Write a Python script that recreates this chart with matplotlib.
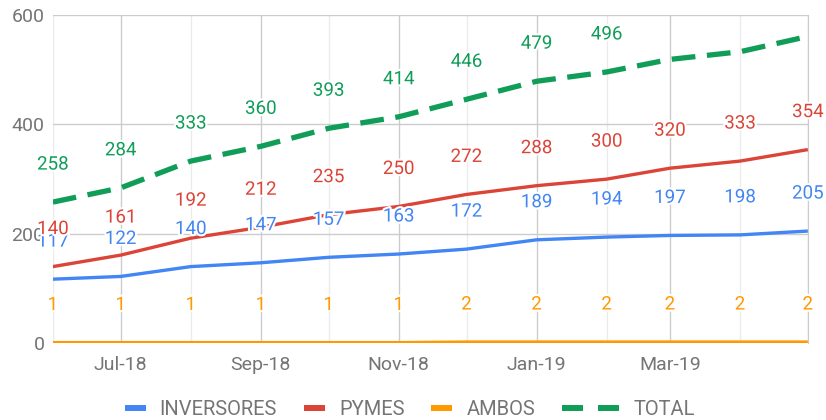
import matplotlib
matplotlib.use("Agg")
import matplotlib.pyplot as plt
import matplotlib.dates as mdates
import matplotlib.patheffects as pe
from matplotlib.lines import Line2D
from matplotlib.legend_handler import HandlerBase
from matplotlib.ticker import FuncFormatter
import pandas as pd

months = pd.date_range("2018-06-01", "2019-05-01", freq="MS")
inversores = [117, 122, 140, 147, 157, 163, 172, 189, 194, 197, 198, 205]
pymes = [140, 161, 192, 212, 235, 250, 272, 288, 300, 320, 333, 354]
ambos = [1, 1, 1, 1, 1, 1, 2, 2, 2, 2, 2, 2]
total = [258, 284, 333, 360, 393, 414, 446, 479, 496, 519, 533, 561]
total_labeled = 9  # last TOTAL points carry no label in the original

plt.rcParams['font.family'] = ['Roboto', 'DejaVu Sans']
grey = '#757575'
DASH_GAP = 0.72  # gap between the two legend dashes, relative to one dash


class SwatchHandler(HandlerBase):
    # one or two short thick swatches, left to right from the box start
    def __init__(self, nseg):
        super().__init__()
        self.nseg = nseg

    def create_artists(self, legend, orig, xdescent, ydescent, width, height,
                       fontsize, trans):
        y = height / 2 - ydescent
        arts = []
        x0 = -xdescent
        for i in range(self.nseg):
            arts.append(Line2D([x0, x0 + width], [y, y], color=orig.get_color(),
                               lw=orig.get_linewidth(), solid_capstyle='butt',
                               transform=trans))
            x0 += width * (1 + DASH_GAP)
        return arts


fig = plt.figure(figsize=(8.26, 4.2), dpi=100)
ax = fig.add_axes([0.064, 0.183, 0.914, 0.781])

series = [
    ("INVERSORES", inversores, '#4285f4', '-', 2.4),
    ("PYMES", pymes, '#db4437', '-', 2.4),
    ("AMBOS", ambos, '#ff9900', '-', 2.4),
    ("TOTAL", total, '#0f9d58', (0, (4.5, 2.2)), 3.8),
]

handles, hmap = [], {}
for name, vals, color, ls, lw in series:
    ax.plot(months, vals, color=color, linestyle=ls, linewidth=lw,
            solid_capstyle='butt', zorder=3)
    n = total_labeled if name == "TOTAL" else len(vals)
    for d, v in list(zip(months, vals))[:n]:
        ax.annotate(str(v), (d, v), xytext=(0, 27), textcoords='offset points',
                    ha='center', va='center', fontsize=13.5, color=color, zorder=5,
                    path_effects=[pe.withStroke(linewidth=3, foreground='white')])
    h = Line2D([], [], color=color, lw=4.3)
    handles.append(h)
    hmap[h] = SwatchHandler(2 if name == "TOTAL" else 1)

ax.set_ylim(0, 600)
ax.set_yticks([0, 200, 400, 600])
ax.set_xlim(months[0], months[-1])

last = mdates.date2num(months[-1])
ax.xaxis.set_major_locator(mdates.MonthLocator(bymonth=[1, 3, 5, 7, 9, 11]))
ax.xaxis.set_major_formatter(FuncFormatter(
    lambda x, pos: '' if x >= last - 1 else mdates.num2date(x).strftime('%b-%y')))
ax.xaxis.set_minor_locator(mdates.MonthLocator())
ax.grid(True, which='major', color='#cccccc', linewidth=1, zorder=0)
ax.grid(True, which='minor', axis='x', color='#ebebeb', linewidth=1, zorder=0)
ax.set_axisbelow(True)

ax.tick_params(axis='both', which='both', length=0, labelsize=14, labelcolor=grey)
ax.tick_params(axis='x', pad=9)
ax.tick_params(axis='y', pad=6)
for s in ['top', 'left', 'bottom']:
    ax.spines[s].set_visible(False)
ax.spines['right'].set_color('#cccccc')

names = [s[0] for s in series]
leg = fig.legend(handles, names, handler_map=hmap, loc='lower center',
                 bbox_to_anchor=(0.496, -0.04), ncol=4, frameon=False, fontsize=14.5,
                 labelcolor=grey, handlelength=1.04, columnspacing=1.34,
                 handletextpad=0.7)
# widen the TOTAL handle box so both dashes fit before its text
for col in leg._legend_handle_box.get_children():
    for row in col.get_children():
        box, txt = row.get_children()[:2]
        if txt.get_text() == "TOTAL":
            box.width = box.width * (2 + DASH_GAP)

fig.savefig("out.png", dpi=100)
